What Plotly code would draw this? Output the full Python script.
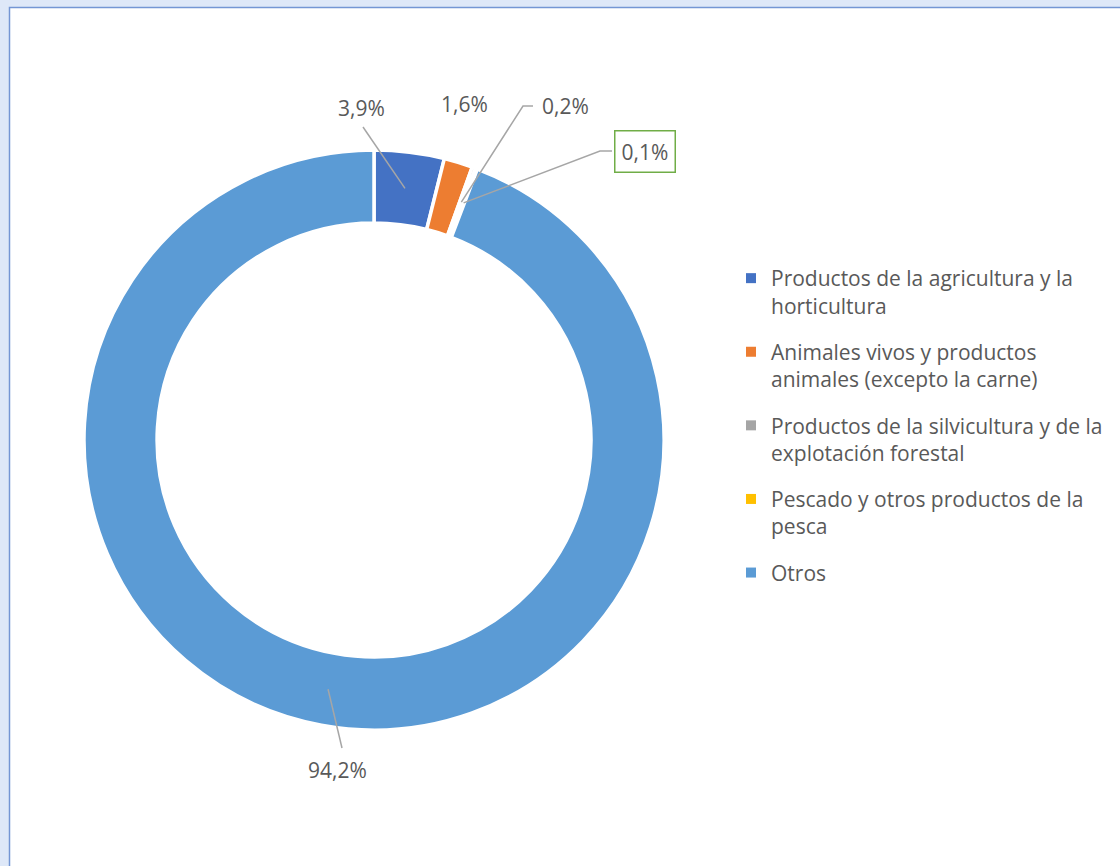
import math
import plotly.graph_objects as go

# ---- data ----
categories = [
    "Productos de la agricultura y la horticultura",
    "Animales vivos y productos animales (excepto la carne)",
    "Productos de la silvicultura y de la explotación forestal",
    "Pescado y otros productos de la pesca",
    "Otros",
]
legend_labels = [
    "Productos de la agricultura y la<br>horticultura",
    "Animales vivos y productos<br>animales (excepto la carne)",
    "Productos de la silvicultura y de la<br>explotación forestal",
    "Pescado y otros productos de la<br>pesca",
    "Otros",
]
values = [3.9, 1.6, 0.2, 0.1, 94.2]
colors = ["#4472C4", "#ED7D31", "#A5A5A5", "#FFC000", "#5B9BD5"]

# ---- layout constants (pixels) ----
W, H = 1120, 866
cx, cy = 374, 440
R = 290
HOLE = 0.748
FONT = "Open Sans, Noto Sans, sans-serif"
FS = 21
TXT = "#595959"
LEAD = "#A6A6A6"

def px(x, y):
    return x / W, 1 - y / H

# label text positions and leader line start points (pixels), per slice
label_pos = [(361, 108), (464, 104), (565, 106), (645, 151), (337, 770)]
leader_start = [[(363, 127)], [], [(533, 106), (523, 106)], [(612, 151), (600, 151)], [(342, 748)]]

fig = go.Figure()
fig.add_trace(go.Pie(
    labels=categories,
    values=values,
    sort=False,
    direction="clockwise",
    rotation=0,
    hole=HOLE,
    marker=dict(colors=colors, line=dict(color="white", width=3.5)),
    textinfo="none",
    hoverinfo="label+percent",
    showlegend=False,
    domain=dict(x=[(cx - R) / W, (cx + R) / W], y=[1 - (cy + R) / H, 1 - (cy - R) / H]),
))

# legend entries (one per category, matching the slice colours)
for i, (lab, col) in enumerate(zip(legend_labels, colors)):
    fig.add_trace(go.Scatter(
        x=[None], y=[None], mode="markers", name=lab,
        marker=dict(symbol="square", size=10, color=col),
        legendgroup=f"g{i}", showlegend=True, hoverinfo="skip",
    ))

shapes = []
# frame
shapes.append(dict(type="rect", xref="paper", yref="paper", layer="below",
                   x0=9.5 / W, x1=1.05, y0=-0.05, y1=1 - 7.5 / H,
                   fillcolor="white", line=dict(color="#7496D4", width=1.5)))

annotations = []
total = sum(values)
cum = 0.0
rmid = R * (1 + HOLE) / 2
for i, v in enumerate(values):
    mid = (cum + v / 2) / total * 2 * math.pi
    cum += v
    ax_ = cx + rmid * math.sin(mid)
    ay_ = cy - rmid * math.cos(mid)
    pts = leader_start[i]
    if pts:
        seq = pts + [(ax_, ay_)]
        path = "M " + " L ".join(f"{px(x, y)[0]:.5f},{px(x, y)[1]:.5f}" for x, y in seq)
        shapes.append(dict(type="path", xref="paper", yref="paper", path=path,
                           line=dict(color=LEAD, width=1.5)))
    tx, ty = px(*label_pos[i])
    txt = f"{v:.1f}".replace(".", ",") + "%"
    ann = dict(x=tx, y=ty, xref="paper", yref="paper", text=txt, showarrow=False,
               xanchor="center", yanchor="middle", font=dict(family=FONT, size=FS, color=TXT))
    if i == 3:
        ann.update(bordercolor="#70AD47", borderwidth=1.5, borderpad=6, bgcolor="white")
    annotations.append(ann)

fig.update_layout(
    width=W, height=H,
    margin=dict(l=0, r=0, t=0, b=0),
    paper_bgcolor="#DEE8F8",
    plot_bgcolor="rgba(0,0,0,0)",
    xaxis=dict(visible=False),
    yaxis=dict(visible=False),
    showlegend=True,
    legend=dict(x=731 / W, y=1 - 258 / H, xanchor="left", yanchor="top",
                font=dict(family=FONT, size=FS, color=TXT), valign="top",
                bgcolor="rgba(0,0,0,0)", traceorder="grouped", tracegroupgap=16),
    shapes=shapes,
    annotations=annotations,
)

fig.write_html("out.html")
